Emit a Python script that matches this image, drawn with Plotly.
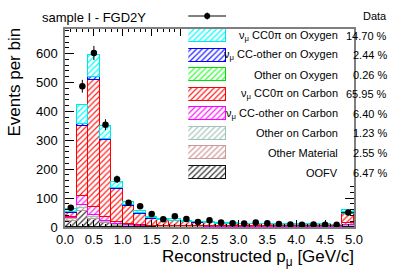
import numpy as np
import plotly.graph_objects as go

# ---------------- data ----------------
bin_centers = [0.1, 0.3, 0.5, 0.7, 0.9, 1.1, 1.3, 1.5, 1.7, 1.9, 2.1, 2.3, 2.5,
               2.7, 2.9, 3.1, 3.3, 3.5, 3.7, 3.9, 4.1, 4.3, 4.5, 4.7, 4.9]
data_counts = [67, 487, 602, 354, 165, 84, 72, 45, 27, 37, 28, 17, 23,
               16, 13, 12, 16, 13, 10, 9, 8, 9, 8, 8, 50]

oofv      = [22, 57, 26, 13, 5, 3, 2, 2, 1, 1, 1, 1, 1, 1, 1, 1, 1, 1, 1, 1, 1, 1, 1, 1, 3]
other_mat = [5, 10, 9, 5, 3, 2, 1, 1, 1, 1, 1, 1, 0, 0, 0, 0, 0, 0, 0, 0, 0, 0, 0, 0, 2]
other_c   = [3, 8, 5, 3, 2, 1, 1, 0, 0, 0, 0, 0, 0, 0, 0, 0, 0, 0, 0, 0, 0, 0, 0, 0, 1]
ccother_c = [5, 33, 29, 14, 8, 4, 3, 2, 2, 2, 1, 1, 1, 1, 1, 1, 1, 1, 1, 1, 1, 1, 1, 1, 9]
cc0pi_c   = [15, 240, 439, 265, 114, 63, 39, 24, 19, 17, 14, 12, 12, 10, 9, 8, 7, 7, 6, 6, 5, 5, 5, 4, 31]
other_o   = [0, 1, 1, 1, 0, 0, 0, 0, 0, 0, 0, 0, 0, 0, 0, 0, 0, 0, 0, 0, 0, 0, 0, 0, 1]
ccother_o = [3, 7, 9, 5, 3, 2, 1, 1, 1, 1, 1, 1, 1, 0, 0, 0, 0, 0, 0, 0, 0, 0, 0, 0, 5]
cc0pi_o   = [11, 65, 76, 42, 21, 13, 7, 6, 5, 5, 4, 3, 3, 3, 3, 2, 2, 2, 2, 2, 2, 2, 2, 2, 8]

legend_labels = ["ν<sub>μ</sub> CC0π on Oxygen", "ν<sub>μ</sub> CC-other on Oxygen",
                 "Other on Oxygen", "ν<sub>μ</sub> CC0π on Carbon",
                 "ν<sub>μ</sub> CC-other on Carbon", "Other on Carbon",
                 "Other Material", "OOFV"]
legend_percent = ["14.70 %", "2.44 %", "0.26 %", "65.95 %", "6.40 %", "1.23 %", "2.55 %", "6.47 %"]

x_ticks = [0.0, 0.5, 1.0, 1.5, 2.0, 2.5, 3.0, 3.5, 4.0, 4.5, 5.0]
y_ticks = [0, 100, 200, 300, 400, 500, 600]

# ---------------- styling ----------------
W, H = 407, 277
L, R, T, B = 65, 53, 29, 50
PW, PH = W - L - R, H - T - B

def px_x(p):
    return (p - L) / PW

def px_y(p):
    return (H - B - p) / PH

colors = {
    "cc0pi_o": ("#00ffff", "#00e5e5"),
    "ccother_o": ("#2020ff", "#0000ff"),
    "other_o": ("#33ff33", "#00dd00"),
    "cc0pi_c": ("#ff2020", "#ff0000"),
    "ccother_c": ("#ff20ff", "#ff00ff"),
    "other_c": ("#a8c8bf", "#a0c4b8"),
    "other_mat": ("#d09a9a", "#cc9999"),
    "oofv": ("#333333", "#111111"),
}

stack = [  # bottom to top
    ("oofv", oofv), ("other_mat", other_mat), ("other_c", other_c),
    ("ccother_c", ccother_c), ("cc0pi_c", cc0pi_c), ("other_o", other_o),
    ("ccother_o", ccother_o), ("cc0pi_o", cc0pi_o),
]
legend_keys = ["cc0pi_o", "ccother_o", "other_o", "cc0pi_c", "ccother_c", "other_c", "other_mat", "oofv"]

FONT = "Liberation Sans, Arial, sans-serif"

fig = go.Figure()

def pattern(fg):
    return dict(shape="/", fgcolor=fg, bgcolor="white", size=4, solidity=0.3, fillmode="replace")

for key, vals in stack:
    fg, ln = colors[key]
    fig.add_trace(go.Bar(
        x=bin_centers, y=vals, width=0.2,
        marker=dict(color=fg, pattern=pattern(fg), line=dict(color=ln, width=1)),
        showlegend=False, xaxis="x", yaxis="y",
    ))

fig.add_trace(go.Scatter(
    x=bin_centers, y=data_counts, mode="markers",
    marker=dict(color="black", size=6.5),
    error_y=dict(type="data", array=list(np.sqrt(data_counts)), color="black", thickness=1, width=0),
    showlegend=False, xaxis="x", yaxis="y",
))

# white legend panel (covers the frame behind the legend, as in the original)
panel_left, panel_bottom = 182.0, 184.0
fig.add_trace(go.Bar(
    x=[0.55], y=[1.08], base=0, width=1.1,
    marker=dict(color="white", line=dict(width=0)),
    cliponaxis=False, showlegend=False, hoverinfo="skip", xaxis="x2", yaxis="y2",
))

# legend boxes drawn as hatched bars on hidden axes
item0, step = 16.0, 19.57
box_left, box_right = 188.3, 226.0
y3_top_px, y3_bot_px = float(T), 182.4
k_top = (y3_top_px - item0) / step
k_bot = (y3_bot_px - item0) / step
for i, key in enumerate(legend_keys):
    fg, ln = colors[key]
    fig.add_trace(go.Bar(
        x=[1], y=[i + 1], base=0, orientation="h", width=13 / step,
        marker=dict(color=fg, pattern=pattern(fg), line=dict(color=ln, width=1)),
        showlegend=False, xaxis="x3", yaxis="y3", hoverinfo="skip", cliponaxis=False,
    ))

def text_ann(x, y, text, size, xanchor="right", yanchor="middle", **kw):
    return dict(x=x, y=y, xref="paper", yref="paper", text=text, showarrow=False,
                xanchor=xanchor, yanchor=yanchor, borderpad=0, borderwidth=0,
                font=dict(family=FONT, size=size, color="black"), **kw)

annotations = []
for i, (lab, pct) in enumerate(zip(legend_labels, legend_percent)):
    yc = px_y(item0 + step * (i + 1))
    annotations.append(text_ann(px_x(337.7), yc, lab, 11))
    annotations.append(text_ann(px_x(387.3), yc, pct, 11))
annotations.append(text_ann(px_x(387.3), px_y(item0), "Data", 11))
annotations.append(text_ann(px_x(41.7), px_y(17.5), "sample I - FGD2Y", 13, xanchor="left"))
annotations.append(text_ann(px_x(13.5), px_y(82), "Events per bin", 17, xanchor="center",
                            textangle=-90))
annotations.append(text_ann(px_x(354.0), px_y(247), "Reconstructed p<sub>μ</sub> [GeV/c]", 17,
                            yanchor="top"))

# data legend marker
shapes = [
    dict(type="line", xref="paper", yref="paper", x0=px_x(box_left), x1=px_x(box_right),
         y0=px_y(item0), y1=px_y(item0), line=dict(color="black", width=1)),
    dict(type="line", xref="paper", yref="paper", x0=px_x(207.2), x1=px_x(207.2),
         y0=px_y(12.5), y1=px_y(19.5), line=dict(color="black", width=1)),
    dict(type="circle", xref="paper", yref="paper", x0=px_x(204.2), x1=px_x(210.2),
         y0=px_y(13), y1=px_y(19), fillcolor="black", line=dict(color="black", width=0)),
]

axis_common = dict(showline=True, linecolor="#7f7f7f", linewidth=1.5, mirror="ticks",
                   ticks="inside", tickcolor="black", showgrid=False, zeroline=False,
                   tickfont=dict(family=FONT, size=13, color="black"))

fig.update_layout(
    width=W, height=H, margin=dict(l=L, r=R, t=T, b=B, pad=0),
    paper_bgcolor="white", plot_bgcolor="rgba(0,0,0,0)",
    barmode="stack", bargap=0, showlegend=False,
    xaxis=dict(range=[0, 5], tickvals=x_ticks, ticktext=[f"{v:.1f}" for v in x_ticks],
               ticklen=7, minor=dict(ticks="inside", dtick=0.1, ticklen=3.5, tickcolor="black"),
               domain=[0, 1], anchor="y", **axis_common),
    yaxis=dict(range=[0, 685], tickvals=y_ticks, ticklen=9,
               minor=dict(ticks="inside", dtick=20, ticklen=4.5, tickcolor="black"),
               ticklabelstandoff=3, domain=[0, 1], anchor="x", **axis_common),
    xaxis2=dict(domain=[px_x(panel_left), 1], range=[0, 1], visible=False,
                anchor="y2", fixedrange=True),
    yaxis2=dict(domain=[px_y(panel_bottom), 1], range=[0, 1], visible=False,
                anchor="x2", fixedrange=True),
    xaxis3=dict(domain=[px_x(box_left), px_x(box_right)], range=[0, 1], visible=False,
                anchor="y3", fixedrange=True),
    yaxis3=dict(domain=[px_y(y3_bot_px), px_y(y3_top_px)], range=[k_bot, k_top], visible=False,
                anchor="x3", fixedrange=True),
    annotations=annotations, shapes=shapes,
    font=dict(family=FONT, color="black"),
)

fig.write_html("out.html", config={"displayModeBar": False},
               post_script="document.body.style.margin='0px';document.body.style.padding='0px';")
